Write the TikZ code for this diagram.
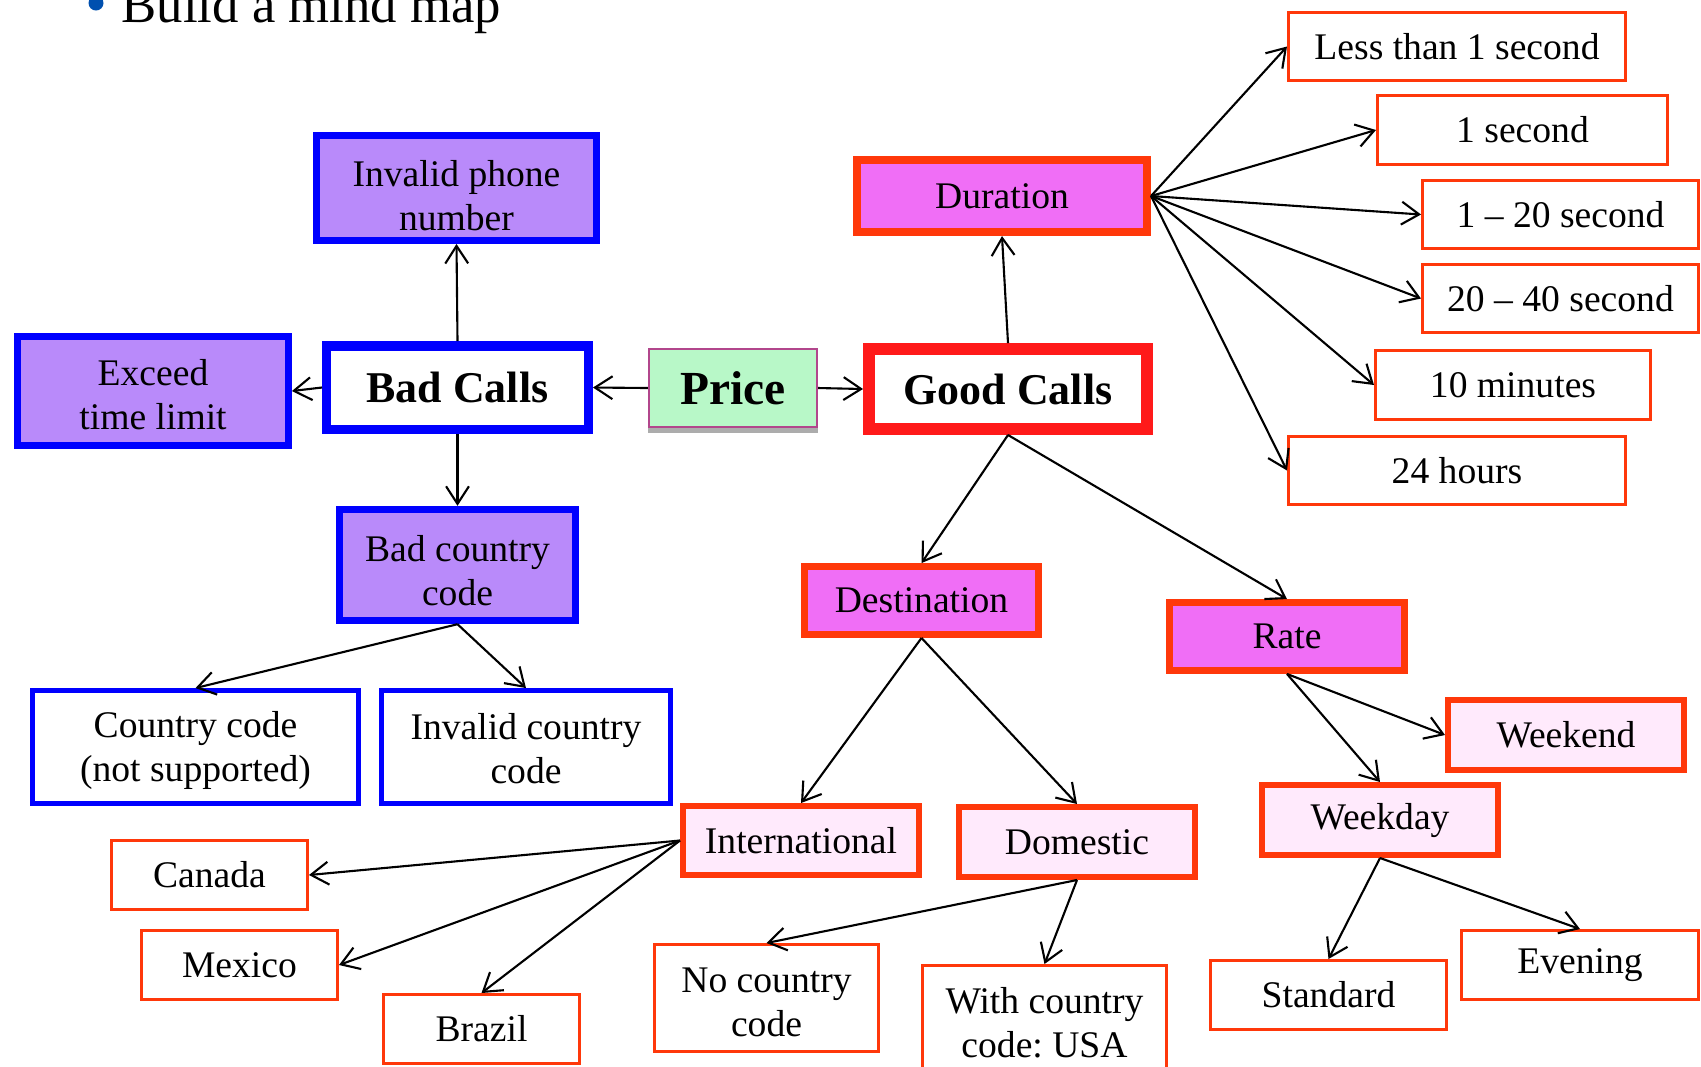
\documentclass[tikz,border=0pt]{standalone}
\usepackage{fontspec}
\setmainfont{Liberation Serif}
\usepackage{tikz}
\usetikzlibrary{arrows.meta}
\frenchspacing

\definecolor{bblue}{RGB}{0,0,255}
\definecolor{bpurple}{RGB}{185,138,250}
\definecolor{gred}{RGB}{255,26,26}
\definecolor{ored}{RGB}{255,56,10}
\definecolor{pmagenta}{RGB}{240,110,246}
\definecolor{lpink}{RGB}{255,234,252}
\definecolor{pgreen}{RGB}{184,248,200}
\definecolor{pborder}{RGB}{178,70,140}
\definecolor{bulletblue}{RGB}{0,80,175}

\tikzset{
  box/.style={rectangle,align=center,inner sep=0pt,font=\fontsize{10.7}{12.5}\selectfont},
  boxsize/.style 2 args={minimum width=#1mm,minimum height=#2mm},
  twoline/.style={text height=#1pt},
  twoline/.default=22,
  purplebox/.style={box,draw=bblue,fill=bpurple,line width=2.1pt},
  bluebox/.style={box,draw=bblue,fill=white,line width=1.4pt},
  callbox/.style={box,fill=white,font=\bfseries\fontsize{12.5}{14}\selectfont},
  topbox/.style={box,draw=ored,fill=pmagenta,line width=2.1pt},
  subbox/.style={box,draw=ored,fill=lpink,line width=1.7pt},
  leafbox/.style={box,draw=ored,fill=white,line width=0.85pt},
  link/.style={->,line width=0.6pt},
  >={Straight Barb[length=5pt,width=6.5pt]}
}

\begin{document}
\begin{tikzpicture}[x=0.1mm,y=-0.1mm]
\useasboundingbox (0,0) rectangle (1701,1066);
\clip (0,0) rectangle (1701,1066);

% title line
\fill[bulletblue] (96,3) circle (7.5);
\node[anchor=base west,inner sep=0pt,font=\fontsize{15}{18}\selectfont] (title) at (121,22) {Build a mind map};

% center
\node[box,draw=pborder,fill=pgreen,line width=0.6pt,boxsize={16.8}{7.8},font=\bfseries\fontsize{13.5}{15}\selectfont] (price) at (733,388) {Price};
\fill[gray!65] (price.south west) rectangle ([yshift=-0.5mm]price.south east);

% bad calls side
\node[callbox,draw=bblue,line width=2.7pt,boxsize={26.15}{8.35}] (bad) at (457.5,387.5) {Bad Calls};
\node[purplebox,twoline=24.5,boxsize={27.95}{10.45}] (phone) at (456.5,188) {Invalid phone\\number};
\node[purplebox,twoline,boxsize={27.05}{10.85}] (exceed) at (153,391) {Exceed\\time limit};
\node[purplebox,twoline=23,boxsize={23.6}{11.1}] (badcc) at (457.5,565) {Bad country\\code};
\node[bluebox,twoline,boxsize={32.6}{11.3}] (ccns) at (195.5,747) {Country code\\(not supported)};
\node[bluebox,twoline=21,boxsize={28.9}{11.3}] (invcc) at (526,747) {Invalid country\\code};

% good calls side
\node[callbox,draw=gred,line width=3.4pt,boxsize={27.8}{8.0}] (good) at (1008,389) {Good Calls};
\node[topbox,line width=2.3pt,boxsize={29.0}{7.2}] (dur) at (1002,196) {Duration};
\node[leafbox,boxsize={33.7}{6.8}] (less) at (1457,46.5) {Less than 1 second};
\node[leafbox,boxsize={29.0}{6.9}] (sec) at (1522.5,130) {1 second};
\node[leafbox,boxsize={27.6}{6.8}] (sa) at (1560.5,214.5) {1 -- 20 second};
\node[leafbox,boxsize={27.6}{6.8}] (sb) at (1560.5,298.5) {20 -- 40 second};
\node[leafbox,boxsize={27.5}{6.9}] (mins) at (1513,385) {10 minutes};
\node[leafbox,boxsize={33.7}{6.8}] (hours) at (1457,470.5) {24 hours};

\node[topbox,boxsize={23.35}{6.75}] (dest) at (921.5,600.5) {Destination};
\node[topbox,boxsize={23.45}{6.75}] (rate) at (1287,636.5) {Rate};

\node[subbox,boxsize={23.6}{6.9}] (intl) at (801,840.5) {International};
\node[subbox,boxsize={23.6}{7.0}] (dom) at (1077,842) {Domestic};
\node[leafbox,boxsize={19.6}{6.9}] (canada) at (209.5,875) {Canada};
\node[leafbox,boxsize={19.6}{6.9}] (mexico) at (239.5,965) {Mexico};
\node[leafbox,boxsize={19.6}{6.9}] (brazil) at (481.5,1029) {Brazil};
\node[leafbox,twoline,boxsize={22.4}{10.7}] (nocc) at (766.5,998) {No country\\code};
\node[leafbox,twoline,boxsize={24.4}{10.8}] (withcc) at (1044.5,1019.5) {With country\\code: USA};

\node[subbox,boxsize={23.6}{7.0}] (weekend) at (1566,735) {Weekend};
\node[subbox,boxsize={23.6}{7.0}] (weekday) at (1380,820) {Weekday};
\node[leafbox,boxsize={23.6}{6.9}] (standard) at (1328.5,995) {Standard};
\node[leafbox,boxsize={23.7}{6.9}] (evening) at (1580,965) {Evening};

% links
\draw[link] (price.west) -- (bad.east);
\draw[link] (price.east) -- (good.west);
\draw[link] (bad.north) -- (phone.south);
\draw[link] (bad.west) -- (exceed.east);
\draw[link] (bad.south) -- (badcc.north);
\draw[link] (badcc.south) -- (ccns.north);
\draw[link] (badcc.south) -- (invcc.north);

\draw[link] (good.north) -- (dur.south);
\foreach \leaf in {less,sec,sa,sb,mins,hours}
  \draw[link] (dur.east) -- (\leaf.west);
\draw[link] (good.south) -- (dest.north);
\draw[link] (good.south) -- (rate.north);
\draw[link] (dest.south) -- (intl.north);
\draw[link] (dest.south) -- (dom.north);
\draw[link] (intl.west) -- (canada.east);
\draw[link] (intl.west) -- (mexico.east);
\draw[link] (intl.west) -- (brazil.north);
\draw[link] (dom.south) -- (nocc.north);
\draw[link] (dom.south) -- (withcc.north);
\draw[link] (rate.south) -- (weekend.west);
\draw[link] (rate.south) -- (weekday.north);
\draw[link] (weekday.south) -- (standard.north);
\draw[link] (weekday.south) -- (evening.north);
\end{tikzpicture}
\end{document}
